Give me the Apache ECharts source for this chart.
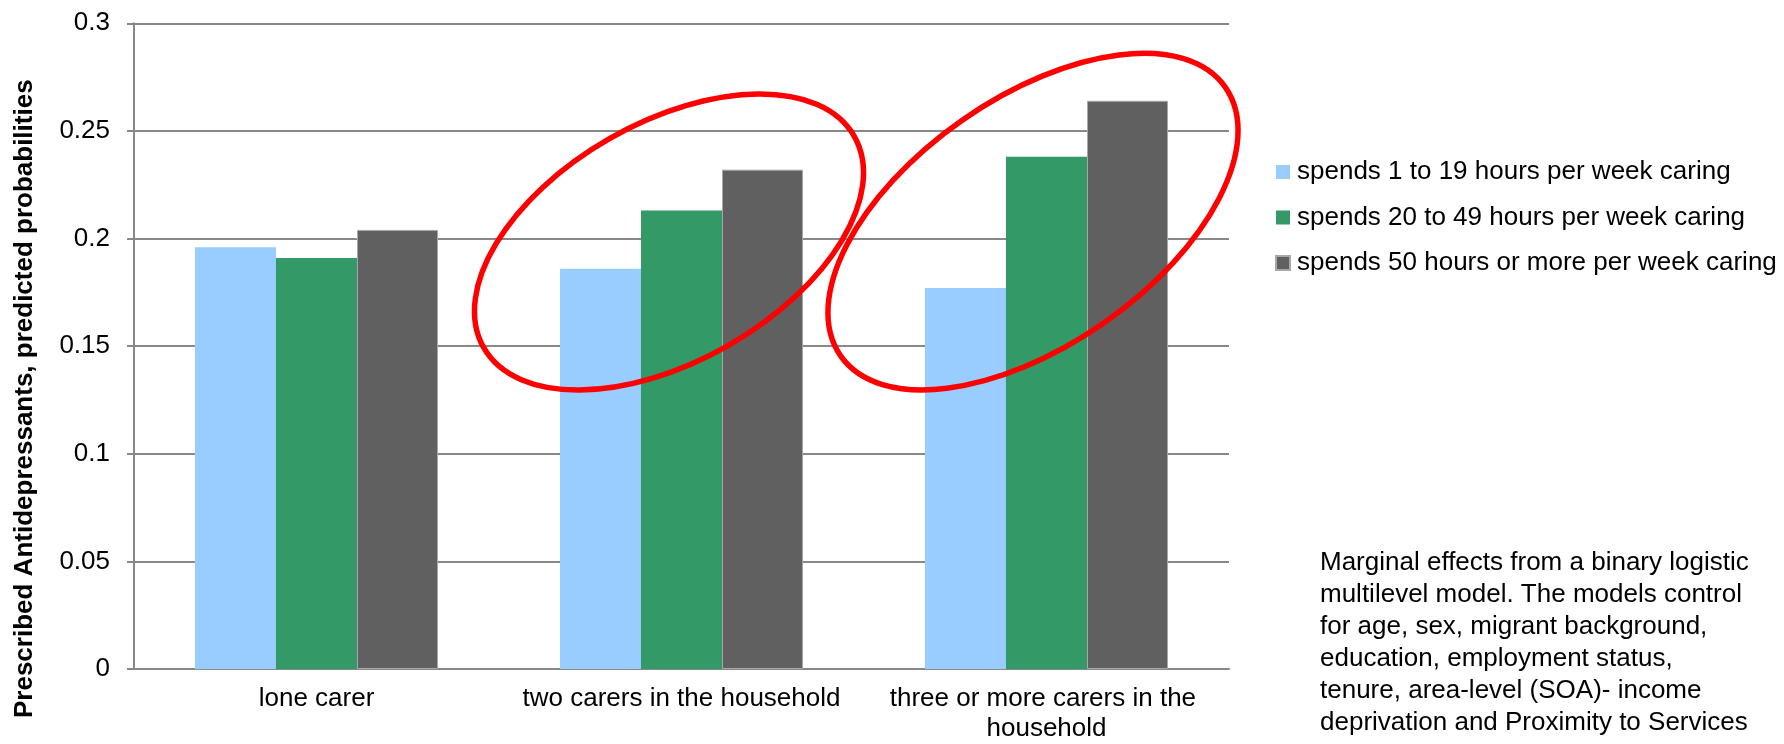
<!DOCTYPE html>
<html>
<head>
<meta charset="utf-8">
<script src="https://cdn.jsdelivr.net/npm/echarts@6/dist/echarts.min.js"></script>
<style>
html, body { margin: 0; padding: 0; background: #ffffff; }
#chart { width: 1784px; height: 744px; }
</style>
</head>
<body>
<div id="chart"></div>
<script>
var categories = ['lone carer', 'two carers in the household', 'three or more carers in the household'];
var seriesNames = ['spends 1 to 19 hours per week caring', 'spends 20 to 49 hours per week caring', 'spends 50 hours or more per week caring'];
var hours1to19 = [0.196, 0.186, 0.177];
var hours20to49 = [0.191, 0.213, 0.238];
var hours50plus = [0.204, 0.232, 0.264];
var yTicks = [0, 0.05, 0.1, 0.15, 0.2, 0.25, 0.3];
var yTitle = 'Prescribed Antidepressants, predicted probabilities';
var noteText = 'Marginal effects from a binary logistic\nmultilevel model. The models control\nfor age, sex, migrant background,\neducation, employment status,\ntenure, area-level (SOA)- income\ndeprivation and Proximity to Services';

var FONT = '"Liberation Sans", Arial, sans-serif';
var chart = echarts.init(document.getElementById('chart'), null, { renderer: 'canvas' });

var option = {
  backgroundColor: '#ffffff',
  animation: false,
  textStyle: { fontFamily: FONT },
  grid: { left: 134, right: 555, top: 23.3, bottom: 72.7, containLabel: false },
  legend: {
    orient: 'vertical',
    left: 1270,
    top: 154,
    itemWidth: 14,
    itemHeight: 14,
    itemGap: 19.5,
    icon: 'rect',
    data: seriesNames,
    textStyle: { fontFamily: FONT, fontSize: 26, color: '#000000', lineHeight: 26, padding: [0, 0, 0, 2] }
  },
  xAxis: {
    type: 'category',
    data: categories,
    axisLine: { show: true, lineStyle: { color: '#888888', width: 2 } },
    axisTick: { show: false },
    axisLabel: {
      fontFamily: FONT, fontSize: 26, color: '#000000', margin: 15,
      width: 340, overflow: 'break', lineHeight: 30, interval: 0
    }
  },
  yAxis: {
    type: 'value',
    min: yTicks[0],
    max: yTicks[yTicks.length - 1],
    interval: 0.05,
    axisLine: { show: true, lineStyle: { color: '#888888', width: 2 } },
    axisTick: { show: true, inside: false, length: 7, lineStyle: { color: '#888888', width: 2 } },
    splitLine: { show: true, lineStyle: { color: '#888888', width: 2 } },
    axisLabel: { fontFamily: FONT, fontSize: 26, color: '#000000', margin: 24 }
  },
  series: [
    {
      name: seriesNames[0], type: 'bar', data: hours1to19,
      barGap: '0%', barCategoryGap: '33.4%',
      itemStyle: { color: '#99CCFF' }
    },
    {
      name: seriesNames[1], type: 'bar', data: hours20to49,
      barGap: '0%', barCategoryGap: '33.4%',
      itemStyle: { color: '#339966' }
    },
    {
      name: seriesNames[2], type: 'bar', data: hours50plus,
      barGap: '0%', barCategoryGap: '33.4%',
      itemStyle: { color: '#606060', borderColor: '#a8a8a8', borderWidth: 1 }
    }
  ],
  graphic: [
    {
      type: 'text',
      x: 25, y: 398.7,
      rotation: Math.PI / 2,
      style: {
        text: yTitle,
        font: 'bold 26px ' + FONT,
        fill: '#000000',
        align: 'center',
        verticalAlign: 'middle'
      }
    },
    {
      type: 'text',
      x: 1320, y: 546.7,
      style: {
        text: noteText,
        font: '26px ' + FONT,
        fill: '#000000',
        lineHeight: 32,
        align: 'left',
        verticalAlign: 'top'
      }
    },
    {
      type: 'ellipse',
      x: 669, y: 242,
      rotation: 29.7 * Math.PI / 180,
      shape: { cx: 0, cy: 0, rx: 213.3, ry: 119.3 },
      style: { fill: null, stroke: '#FF0000', lineWidth: 5.5 },
      z: 100
    },
    {
      type: 'ellipse',
      x: 1033, y: 221.6,
      rotation: 34.9 * Math.PI / 180,
      shape: { cx: 0, cy: 0, rx: 234.6, ry: 123.7 },
      style: { fill: null, stroke: '#FF0000', lineWidth: 5.5 },
      z: 100
    }
  ]
};

chart.setOption(option);
</script>
</body>
</html>
